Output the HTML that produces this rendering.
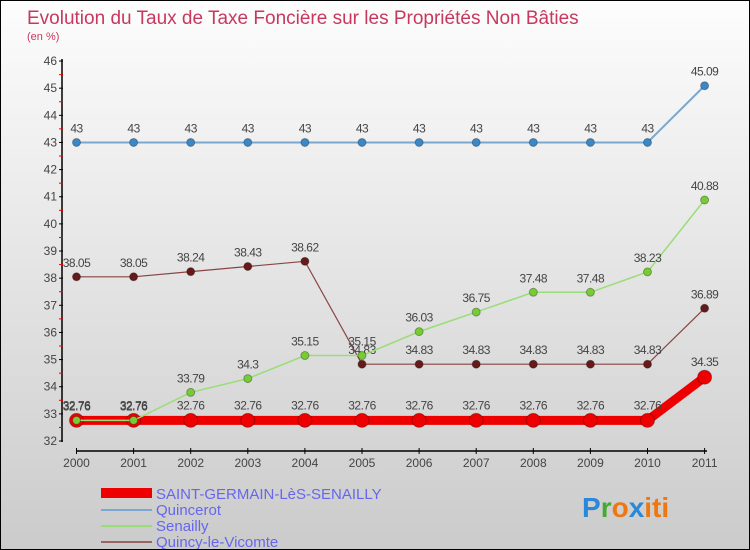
<!DOCTYPE html>
<html><head><meta charset="utf-8"><style>
body{margin:0}
#c{width:750px;height:550px;position:relative;overflow:hidden;background:linear-gradient(#fdfdfd,#cbcbcb);font-family:"Liberation Sans",sans-serif;border:1px solid #000;box-sizing:border-box}
</style></head><body>
<div id="c">
<svg width="750" height="550" id="s">
<text x="26" y="23" font-size="19" fill="#c8385e">Evolution du Taux de Taxe Foncière sur les Propriétés Non Bâties</text>
<text x="26" y="39" font-size="11" fill="#c8385e">(en %)</text>
<g id="axes"></g><g id="series"></g>
<g>
<rect x="100" y="487" width="51" height="10" fill="#e00"/>
<text x="155" y="498" font-size="15" fill="#6666ee">SAINT-GERMAIN-LèS-SENAILLY</text>
<line x1="100" y1="509" x2="151" y2="509" stroke="#7aa8d0" stroke-width="2"/>
<text x="155" y="514" font-size="15" fill="#6666ee">Quincerot</text>
<line x1="100" y1="525" x2="151" y2="525" stroke="#99dd77" stroke-width="2"/>
<text x="155" y="530" font-size="15" fill="#6666ee">Senailly</text>
<line x1="100" y1="541" x2="151" y2="541" stroke="#996666" stroke-width="2"/>
<text x="155" y="546" font-size="15" fill="#6666ee">Quincy-le-Vicomte</text>
</g>
<text x="581" y="516" font-size="28" font-weight="bold"><tspan fill="#2a88d8">P</tspan><tspan fill="#44aa33">r</tspan><tspan fill="#ee7711">o</tspan><tspan fill="#2a88d8">x</tspan><tspan fill="#ee7711">iti</tspan></text>
</svg></div>
<script>
const years=[2000,2001,2002,2003,2004,2005,2006,2007,2008,2009,2010,2011];
const yTicks=[32,33,34,35,36,37,38,39,40,41,42,43,44,45,46];
const stGermain=[32.76,32.76,32.76,32.76,32.76,32.76,32.76,32.76,32.76,32.76,32.76,34.35];
const quincerot=[43,43,43,43,43,43,43,43,43,43,43,45.09];
const senailly=[32.76,32.76,33.79,34.3,35.15,35.15,36.03,36.75,37.48,37.48,38.23,40.88];
const quincy=[38.05,38.05,38.24,38.43,38.62,34.83,34.83,34.83,34.83,34.83,34.83,36.89];
const NS="http://www.w3.org/2000/svg";
const X=i=>75.5+i*57.1, Y=v=>440-(v-32)*27.14;
function mk(t,a,p){const e=document.createElementNS(NS,t);for(const k in a)e.setAttribute(k,a[k]);p.appendChild(e);return e;}
const ax=document.getElementById('axes');
let l=mk('line',{x1:61,y1:58,x2:61,y2:441,stroke:'#000','stroke-width':1.5},ax);


l=mk('line',{x1:75,y1:450,x2:706,y2:450,stroke:'#000','stroke-width':1.5},ax);


yTicks.forEach(v=>{mk('line',{x1:58,y1:Y(v),x2:62,y2:Y(v),stroke:'#000'},ax);
 if(v<46)mk('line',{x1:58,y1:Y(v+0.5),x2:62,y2:Y(v+0.5),stroke:'#e00'},ax);
 const t=mk('text',{x:56,y:Y(v)+4,'text-anchor':'end','font-size':12,fill:'#444'},ax);t.textContent=v;
 
 });
years.forEach((y,i)=>{mk('line',{x1:X(i),y1:447,x2:X(i),y2:453,stroke:'#000'},ax);
 const t=mk('text',{x:X(i),y:466,'text-anchor':'middle','font-size':12,fill:'#444'},ax);t.textContent=y;
 
 });
const sg=document.getElementById('series');
function series(d,name,col,fill,w,r,lblOff){
 const g=mk('g',{},sg);
 
 
 mk('polyline',{points:d.map((v,i)=>X(i)+','+Y(v)).join(' '),fill:'none',stroke:col,'stroke-width':w},g);
 d.forEach((v,i)=>{const c=mk('circle',{cx:X(i),cy:Y(v),r:r,fill:fill,stroke:'rgba(0,0,0,0.3)'},g);
  
  
  const t=mk('text',{x:X(i),y:Y(v)-lblOff,'text-anchor':'middle','font-size':12,fill:'#444','letter-spacing':'-0.5'},g);t.textContent=v;
  
  });
}
series(quincerot,'quincerot','#7aa8d0','#3a88c8',2,4,10);
series(quincy,'quincy-le-vicomte','#884444','#661a1a',1.2,4,10);
series(stGermain,'saint-germain','#ee0000','#ee0000',9,7,11);
series(senailly,'senailly','#99dd77','#77cc33',1.5,4,10);
</script>
</body></html>
